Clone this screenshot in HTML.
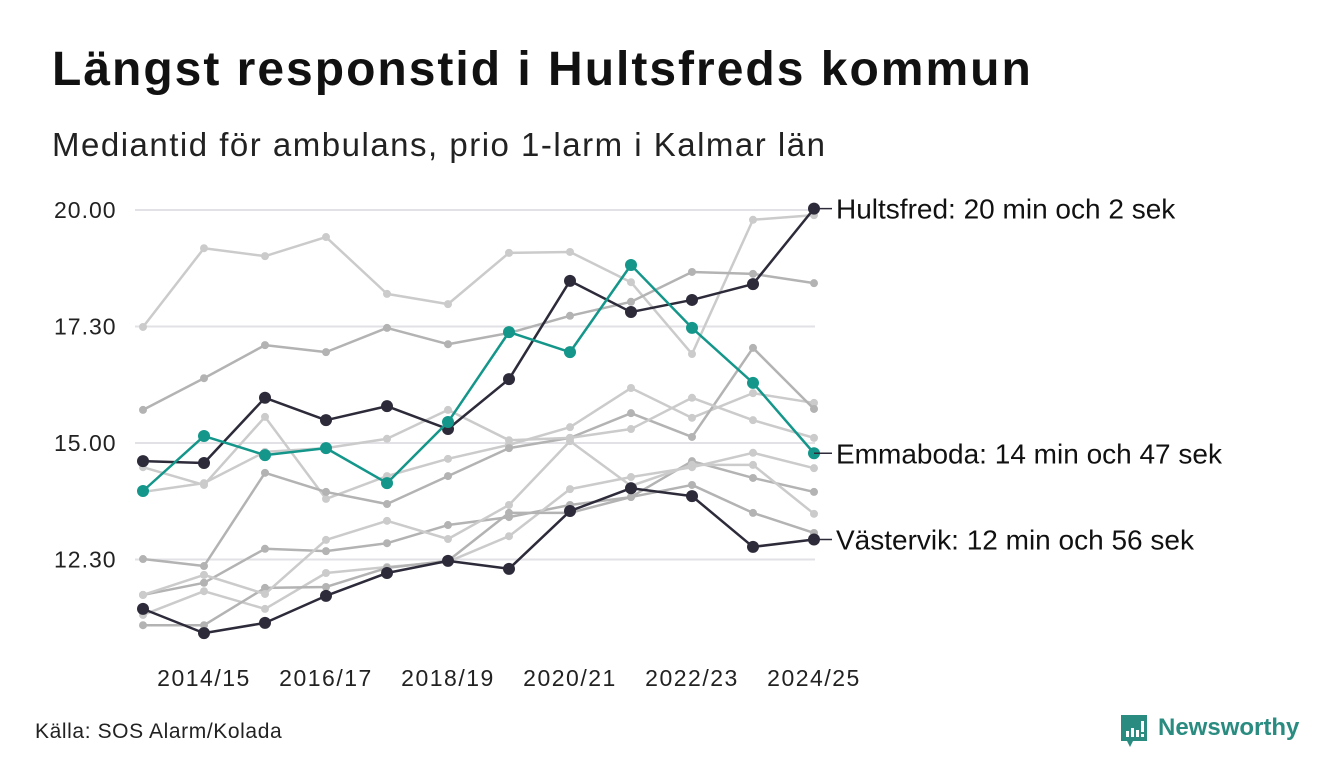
<!DOCTYPE html>
<html><head><meta charset="utf-8"><style>
body{margin:0;width:1340px;height:780px;background:#fff;font-family:"Liberation Sans",sans-serif;overflow:hidden;position:relative}
.t{position:absolute;white-space:nowrap;color:#111}
</style></head><body>
<div class="t" style="left:52px;top:42px;font-size:48px;font-weight:bold;letter-spacing:2px">Längst responstid i Hultsfreds kommun</div>
<div class="t" style="left:52px;top:126px;font-size:33px;letter-spacing:1.5px;color:#222">Mediantid för ambulans, prio 1-larm i Kalmar län</div>
<svg id="chart" width="1340" height="700" style="position:absolute;left:0;top:0"></svg>
<div class="t" style="left:35px;top:720px;font-size:21px;letter-spacing:0.6px;color:#222">Källa: SOS Alarm/Kolada</div>
<div style="position:absolute;left:1119px;top:713px">
<svg width="30" height="38"><path d="M2 2h26v26H14l-3 6-3-6H2z" fill="#2a8c80"/><rect x="7" y="18" width="3" height="6" fill="#fff"/><rect x="12" y="15" width="3" height="9" fill="#fff"/><rect x="17" y="17" width="3" height="7" fill="#fff"/><rect x="22" y="8" width="3" height="11" fill="#fff"/><rect x="22" y="21" width="3" height="3" fill="#fff"/></svg>
<span style="position:absolute;left:39px;top:1px;font-size:24px;font-weight:bold;color:#2a8c80">Newsworthy</span>
</div>
<script>
const categories=["2013/14","2014/15","2015/16","2016/17","2017/18","2018/19","2019/20","2020/21","2021/22","2022/23","2023/24","2024/25"];
const tickValues=[20,17.5,15,12.5];
const tickLabels=["20.00","17.30","15.00","12.30"];
const grayA=[17.49,19.18,19.01,19.42,18.20,17.98,19.08,19.10,18.45,16.91,19.79,19.89];
const grayB=[15.71,16.39,17.10,16.95,17.47,17.12,17.36,17.73,18.03,18.67,18.63,18.43];
const grayC=[14.48,14.10,15.56,13.80,14.29,14.66,14.96,15.34,16.18,15.54,16.07,15.86];
const grayD=[12.51,12.36,14.36,13.95,13.69,14.29,14.89,15.11,15.64,15.13,17.04,15.73];
const grayE=[13.95,14.14,14.81,14.89,15.09,15.71,15.06,15.11,15.30,15.97,15.49,15.11];
const grayF=[11.74,12.00,12.73,12.68,12.85,13.24,13.41,13.67,13.84,14.61,14.25,13.95];
const grayG=[11.31,11.82,11.44,12.21,12.34,12.45,13.00,14.01,14.27,14.48,14.79,14.46];
const grayH=[11.09,11.09,11.89,11.91,12.32,12.47,13.50,13.50,13.84,14.10,13.50,13.07];
const grayI=[11.74,12.17,11.76,12.92,13.33,12.94,13.67,15.04,14.08,14.53,14.53,13.48];
const hultsfred=[14.61,14.57,15.97,15.49,15.79,15.30,16.37,18.48,17.81,18.07,18.41,20.03];
const vastervik=[11.44,10.92,11.14,11.72,12.21,12.47,12.30,13.54,14.03,13.86,12.77,12.93];
const emmaboda=[13.97,15.15,14.74,14.89,14.14,15.45,17.38,16.95,18.82,17.47,16.29,14.78];
const labels=["Hultsfred: 20 min och 2 sek","Emmaboda: 14 min och 47 sek","Västervik: 12 min och 56 sek"];

const NS="http://www.w3.org/2000/svg";
const svg=document.getElementById('chart');
const x=i=>143+i*61;
const y=v=>210+(20-v)*46.6;
function mk(t,a){const e=document.createElementNS(NS,t);for(const k in a)e.setAttribute(k,a[k]);svg.appendChild(e);return e;}
tickValues.forEach((v,i)=>{
  const g=mk('line',{x1:135,x2:815,y1:y(v),y2:y(v),stroke:'#e2e2e6','stroke-width':2});
  
  
  const t=mk('text',{x:54,y:y(v)+8,'font-size':23,'letter-spacing':1,fill:'#222','font-family':'Liberation Sans'});
  t.textContent=tickLabels[i];
  
  
});
categories.forEach((c,i)=>{
  if(i%2===1){
    const t=mk('text',{x:x(i),y:686,'font-size':23,'letter-spacing':1.5,fill:'#222','text-anchor':'middle','font-family':'Liberation Sans'});
    t.textContent=c;
    
    
  }
});
function series(vals,color,w,r,name){
  const p=mk('polyline',{points:vals.map((v,i)=>x(i)+','+y(v)).join(' '),fill:'none',stroke:color,'stroke-width':w,'stroke-linejoin':'round'});
  
  
  vals.forEach((v,i)=>{
    const c=mk('circle',{cx:x(i),cy:y(v),r:r,fill:color});
    
    
  });
}
const grays=[[grayA,'#cbcbcb'],[grayB,'#b3b3b3'],[grayC,'#cbcbcb'],[grayD,'#b3b3b3'],[grayE,'#cbcbcb'],[grayF,'#b3b3b3'],[grayG,'#cbcbcb'],[grayH,'#b3b3b3'],[grayI,'#cbcbcb']];
grays.forEach((g,k)=>series(g[0],g[1],2.5,4,'gray-series-'+(k+1)));
series(hultsfred,'#2d2b3a',2.5,6,'hultsfred');
series(vastervik,'#2d2b3a',2.5,6,'vastervik');
series(emmaboda,'#14968a',2.5,6,'emmaboda');
[[hultsfred,labels[0]],[emmaboda,labels[1]],[vastervik,labels[2]]].forEach(([vals,lab])=>{
  const yy=y(vals[11]);
  const l=mk('line',{x1:814,x2:832,y1:yy,y2:yy,stroke:'#2d2b3a','stroke-width':1.5});
  
  
  const t=mk('text',{x:836,y:yy+10,'font-size':28,fill:'#111','font-family':'Liberation Sans'});
  t.textContent=lab;
  
  
});
</script>
</body></html>
